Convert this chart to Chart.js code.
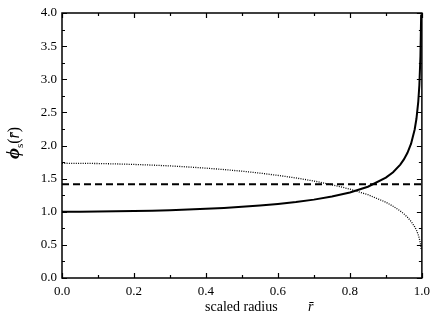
<!DOCTYPE html>
<html>
<head>
<meta charset="utf-8">
<script src="https://cdn.jsdelivr.net/npm/chart.js@4/dist/chart.umd.min.js"></script>
<style>
html,body{margin:0;padding:0;background:#fff;}
#wrap{width:436px;height:319px;}
</style>
</head>
<body>
<div id="wrap"><canvas id="c" width="436" height="319"></canvas></div>
<script>
// scaled radius values
const radius = [0, 0.05, 0.1, 0.15, 0.2, 0.25, 0.3, 0.35, 0.4, 0.45, 0.5, 0.55, 0.6, 0.65, 0.7, 0.75, 0.8, 0.85, 0.9, 0.92, 0.94, 0.95, 0.96, 0.97, 0.98, 0.985, 0.99, 0.993, 0.996, 0.998];
// solid curve
const phiSolid = [1.000, 1.001, 1.003, 1.006, 1.010, 1.016, 1.024, 1.033, 1.045, 1.058, 1.075, 1.094, 1.118, 1.147, 1.183, 1.230, 1.291, 1.378, 1.515, 1.597, 1.712, 1.790, 1.890, 2.028, 2.242, 2.407, 2.663, 2.910, 3.345, 3.977];
// dotted curve
const phiDotted = [1.732, 1.731, 1.728, 1.722, 1.714, 1.704, 1.692, 1.676, 1.658, 1.637, 1.612, 1.583, 1.549, 1.510, 1.464, 1.408, 1.342, 1.257, 1.144, 1.084, 1.012, 0.968, 0.917, 0.854, 0.773, 0.720, 0.651, 0.595, 0.518, 0.436];
// dashed constant
const dashedX = [0, 1.0];
const dashedY = [1.414, 1.414];
// ticks
const xTickLabels = ['0.0', '0.2', '0.4', '0.6', '0.8', '1.0'];
const yTickLabels = ['0.0', '0.5', '1.0', '1.5', '2.0', '2.5', '3.0', '3.5', '4.0'];

const pts = (xs, ys) => xs.map((x, i) => ({x: x, y: ys[i]}));
const SERIF = '"Liberation Serif", "DejaVu Serif", serif';

const framePlugin = {
  id: 'frame',
  afterDatasetsDraw(chart) {
    const ctx = chart.ctx, a = chart.chartArea;
    const xs = chart.scales.x, ys = chart.scales.y;
    ctx.save();
    ctx.strokeStyle = '#000';
    ctx.lineWidth = 1.5;
    ctx.strokeRect(a.left, a.top, a.right - a.left, a.bottom - a.top);
    ctx.lineWidth = 1.2;
    ctx.beginPath();
    for (let i = 0; i <= 10; i++) {
      const v = i / 10;
      const px = Math.round(xs.getPixelForValue(v)) + 0.5;
      const len = (i % 2 === 0) ? 5 : 3;
      ctx.moveTo(px, a.bottom); ctx.lineTo(px, a.bottom - len);
      ctx.moveTo(px, a.top); ctx.lineTo(px, a.top + len);
    }
    for (let i = 0; i <= 16; i++) {
      const v = i * 0.25;
      const py = Math.round(ys.getPixelForValue(v)) + 0.5;
      const len = (i % 2 === 0) ? 5 : 3;
      ctx.moveTo(a.left, py); ctx.lineTo(a.left + len, py);
      ctx.moveTo(a.right, py); ctx.lineTo(a.right - len, py);
    }
    ctx.stroke();
    ctx.restore();
  },
  afterDraw(chart) {
    const ctx = chart.ctx;
    ctx.save();
    ctx.fillStyle = '#000';
    ctx.textBaseline = 'alphabetic';
    ctx.textAlign = 'left';
    // x title
    ctx.font = '14px ' + SERIF;
    ctx.fillText('scaled radius', 205, 311);
    ctx.font = 'italic 14px ' + SERIF;
    ctx.fillText('r\u0304', 308, 311);
    // y title
    ctx.translate(19, 143);
    ctx.rotate(-Math.PI / 2);
    const parts = [
      {t: '\u03D5', f: 'italic bold 19px ' + SERIF, dy: 0},
      {t: 's', f: '11px ' + SERIF, dy: 4},
      {t: '(', f: '16px ' + SERIF, dy: 0},
      {t: 'r\u0304', f: 'italic 16px ' + SERIF, dy: 0},
      {t: ')', f: '16px ' + SERIF, dy: 0}
    ];
    let tot = 0;
    parts.forEach(p => { ctx.font = p.f; p.w = ctx.measureText(p.t).width; tot += p.w; });
    let cx = -tot / 2;
    parts.forEach(p => { ctx.font = p.f; ctx.fillText(p.t, cx, p.dy); cx += p.w; });
    ctx.restore();
  }
};

new Chart(document.getElementById('c'), {
  type: 'scatter',
  data: {
    datasets: [
      {data: pts(radius, phiSolid), showLine: true, borderColor: '#000', borderWidth: 2, pointRadius: 0, tension: 0},
      {data: pts(dashedX, dashedY), showLine: true, borderColor: '#000', borderWidth: 2, borderDash: [7, 4], pointRadius: 0},
      {data: pts(radius, phiDotted), showLine: true, borderColor: '#000', borderWidth: 1.3, borderDash: [1, 1.3], pointRadius: 0, tension: 0}
    ]
  },
  options: {
    responsive: false,
    animation: false,
    devicePixelRatio: 1,
    layout: {padding: {left: 0, right: 13, top: 13, bottom: 0}},
    plugins: {legend: {display: false}, tooltip: {enabled: false}},
    scales: {
      x: {
        type: 'linear', min: 0, max: 1.0,
        afterFit(s) { s.height = 41; },
        afterBuildTicks(s) { s.ticks = xTickLabels.map(v => ({value: parseFloat(v)})); },
        ticks: {
          callback: (v) => xTickLabels.find(l => Math.abs(parseFloat(l) - v) < 1e-9) || '',
          color: '#000', font: {family: SERIF, size: 13}, padding: 6, maxRotation: 0
        },
        grid: {display: false, drawTicks: false},
        border: {display: false}
      },
      y: {
        type: 'linear', min: 0, max: 4.0,
        afterFit(s) { s.width = 62; },
        afterBuildTicks(s) { s.ticks = yTickLabels.map(v => ({value: parseFloat(v)})); },
        ticks: {
          callback: (v) => yTickLabels.find(l => Math.abs(parseFloat(l) - v) < 1e-9) || '',
          color: '#000', font: {family: SERIF, size: 13}, padding: 5
        },
        grid: {display: false, drawTicks: false},
        border: {display: false}
      }
    }
  },
  plugins: [framePlugin]
});
</script>
</body>
</html>
